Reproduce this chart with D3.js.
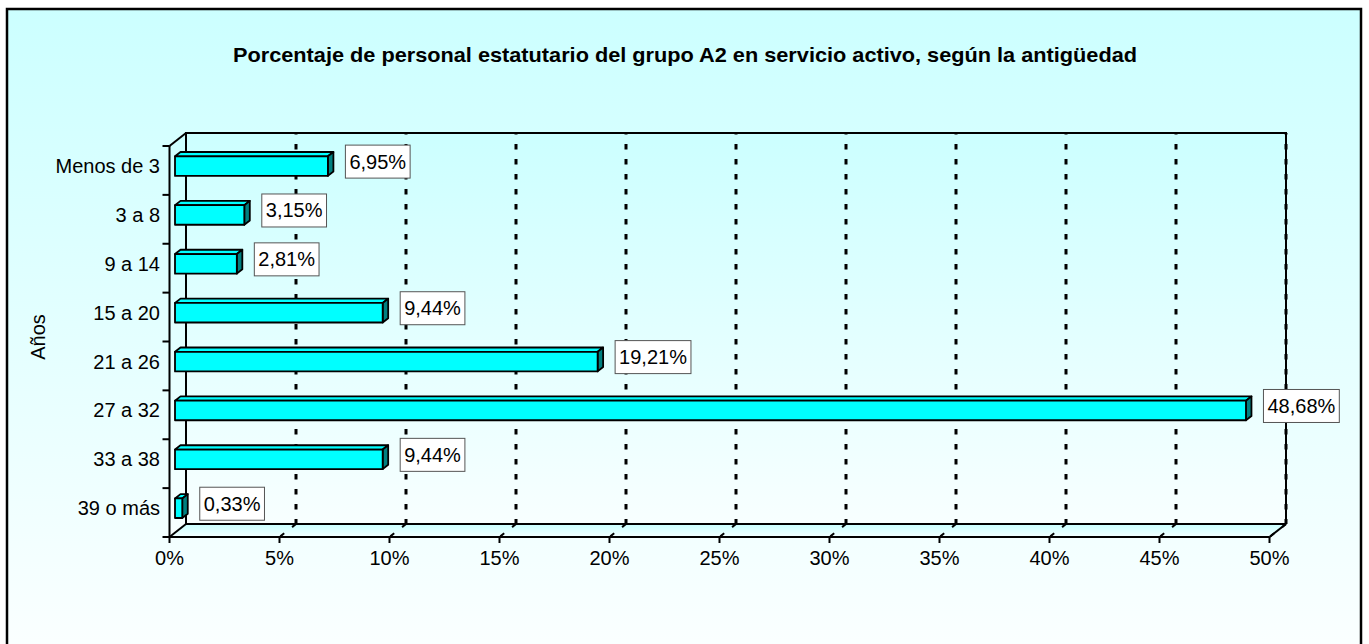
<!DOCTYPE html>
<html><head><meta charset="utf-8">
<script src="https://cdn.jsdelivr.net/npm/d3@7"></script>
<style>html,body{margin:0;padding:0;background:#fff;}svg{display:block;}text{font-family:"Liberation Sans",Arial,sans-serif;}</style>
</head><body>
<svg id="c" width="1369" height="644"></svg>
<script>
const title = "Porcentaje de personal estatutario del grupo A2 en servicio activo, según la antigüedad";
const categories = ["Menos de 3","3 a 8","9 a 14","15 a 20","21 a 26","27 a 32","33 a 38","39 o más"];
const values = [6.95,3.15,2.81,9.44,19.21,48.68,9.44,0.33];
const valueLabels = ["6,95%","3,15%","2,81%","9,44%","19,21%","48,68%","9,44%","0,33%"];
const xTicks = [0,5,10,15,20,25,30,35,40,45,50];
const xTickLabels = ["0%","5%","10%","15%","20%","25%","30%","35%","40%","45%","50%"];
const yTitle = "Años";

(function(){
const svg = d3.select("#c");
const defs = svg.append("defs");
const g1 = defs.append("linearGradient").attr("id","bg").attr("x1",0).attr("y1",0).attr("x2",0).attr("y2",1);
g1.append("stop").attr("offset","0%").attr("stop-color","#ccffff");
g1.append("stop").attr("offset","100%").attr("stop-color","#ffffff");
const g2 = defs.append("linearGradient").attr("id","wall").attr("x1",0).attr("y1",0).attr("x2",0).attr("y2",1);
g2.append("stop").attr("offset","0%").attr("stop-color","#ccffff");
g2.append("stop").attr("offset","100%").attr("stop-color","#f8ffff");
const g3 = defs.append("linearGradient").attr("id","floor").attr("x1",0).attr("y1",0).attr("x2",0).attr("y2",1);
g3.append("stop").attr("offset","0%").attr("stop-color","#c8ffff");
g3.append("stop").attr("offset","100%").attr("stop-color","#f2ffff");

// chart background
svg.append("rect").attr("x",7).attr("y",9).attr("width",1354).attr("height",700)
  .attr("fill","url(#bg)").attr("stroke","#000").attr("stroke-width",2.5);

// geometry
const pL = 169.5, pR = 1269.5, pT = 146, pB = 537;
const dx = 16.5, dy = -13;
const x = d3.scaleLinear().domain([0,50]).range([pL,pR]);
const y = d3.scaleBand().domain(categories).range([pT,pB]).paddingInner(0.6).paddingOuter(0.3);
const yEdges = d3.scaleBand().domain(categories).range([pT,pB]);

// back wall
svg.append("rect").attr("x",pL+dx).attr("y",pT+dy).attr("width",pR-pL).attr("height",pB-pT)
  .attr("fill","url(#wall)");
// side wall
svg.append("polygon").attr("points",[[pL,pT],[pL+dx,pT+dy],[pL+dx,pB+dy],[pL,pB]].join(" "))
  .attr("fill","url(#wall)");
// floor
svg.append("polygon").attr("points",[[pL,pB],[pL+dx,pB+dy],[pR+dx,pB+dy],[pR,pB]].join(" "))
  .attr("fill","url(#floor)");

// gridlines (back wall + floor)
const grid = svg.append("g");
xTicks.slice(1).forEach(t => {
  grid.append("line").attr("x1",x(t)+dx).attr("x2",x(t)+dx).attr("y1",pT+dy).attr("y2",pB+dy)
    .attr("stroke","#000").attr("stroke-width",3).attr("stroke-dasharray","5.5,9.5").attr("stroke-dashoffset",4);
  grid.append("line").attr("x1",x(t)+dx).attr("x2",x(t)).attr("y1",pB+dy).attr("y2",pB)
    .attr("stroke","#000").attr("stroke-width",2).attr("stroke-dasharray","5,10");
});

// frame lines
const fr = svg.append("g").attr("stroke","#000").attr("stroke-width",2).attr("fill","none");
fr.append("polyline").attr("points",[[pL+dx,pB+dy],[pL+dx,pT+dy],[pR+dx,pT+dy],[pR+dx,pB+dy]].join(" "));
fr.append("line").attr("x1",pL+dx).attr("x2",pR+dx).attr("y1",pB+dy).attr("y2",pB+dy);
fr.append("line").attr("x1",pL).attr("y1",pT).attr("x2",pL+dx).attr("y2",pT+dy);
fr.append("line").attr("x1",pL).attr("y1",pB).attr("x2",pL+dx).attr("y2",pB+dy);
fr.append("line").attr("x1",pR).attr("y1",pB).attr("x2",pR+dx).attr("y2",pB+dy);
fr.append("line").attr("x1",pL).attr("y1",pT).attr("x2",pL).attr("y2",pB);
fr.append("line").attr("x1",pL).attr("y1",pB).attr("x2",pR).attr("y2",pB);

// y ticks
categories.forEach(c => {
  fr.append("line").attr("x1",pL-7).attr("x2",pL).attr("y1",yEdges(c)).attr("y2",yEdges(c));
});
fr.append("line").attr("x1",pL-7).attr("x2",pL).attr("y1",pB).attr("y2",pB);
// x ticks
xTicks.forEach(t => {
  fr.append("line").attr("x1",x(t)).attr("x2",x(t)).attr("y1",pB).attr("y2",pB+6);
});

// bars
const ox = dx/3, oy = dy/3, bdx = dx/3, bdy = dy/3;
const bars = svg.append("g");
categories.forEach((c,i) => {
  const v = values[i];
  const x0 = x(0)+ox, x1 = x(v)+ox;
  const yt = y(c)+oy, yb = y(c)+y.bandwidth()+oy;
  const gb = bars.append("g").attr("stroke","#000").attr("stroke-width",1.8).attr("stroke-linejoin","round");
  gb.append("polygon").attr("points",[[x0,yt],[x0+bdx,yt+bdy],[x1+bdx,yt+bdy],[x1,yt]].join(" ")).attr("fill","#00ffff");
  gb.append("polygon").attr("points",[[x1,yt],[x1+bdx,yt+bdy],[x1+bdx,yb+bdy],[x1,yb]].join(" ")).attr("fill","#008080");
  gb.append("rect").attr("x",x0).attr("y",yt).attr("width",x1-x0).attr("height",yb-yt).attr("fill","#00ffff");
});

// value labels
const labs = svg.append("g");
categories.forEach((c,i) => {
  const v = values[i];
  const endX = x(v)+ox+bdx;
  const cy = y(c)+oy+y.bandwidth()/2 - 4.5;
  const gl = labs.append("g");
  const r = gl.append("rect").attr("fill","#fff").attr("stroke","#555").attr("stroke-width",1);
  const t = gl.append("text").attr("font-size",20).attr("fill","#000").attr("dominant-baseline","central")
    .attr("x",endX+12+4).attr("y",cy).text(valueLabels[i]);
  const w = t.node().getComputedTextLength();
  r.attr("x",endX+12).attr("y",cy-16.5).attr("width",w+8).attr("height",33);
});

// category labels
categories.forEach(c => {
  svg.append("text").attr("x",160).attr("y",y(c)+oy+y.bandwidth()/2).attr("text-anchor","end")
    .attr("dominant-baseline","central").attr("font-size",20).text(c);
});
// x tick labels
xTicks.forEach((t,i) => {
  svg.append("text").attr("x",x(t)).attr("y",565).attr("text-anchor","middle").attr("font-size",20).text(xTickLabels[i]);
});
// axis title
svg.append("text").attr("transform",`translate(45,337) rotate(-90)`).attr("text-anchor","middle")
  .attr("font-size",20).text(yTitle);
// title
svg.append("text").attr("x",685).attr("y",62).attr("text-anchor","middle").attr("font-size",21)
  .attr("font-weight","bold").attr("textLength",904).attr("lengthAdjust","spacingAndGlyphs").text(title);
})();
</script>
</body></html>
